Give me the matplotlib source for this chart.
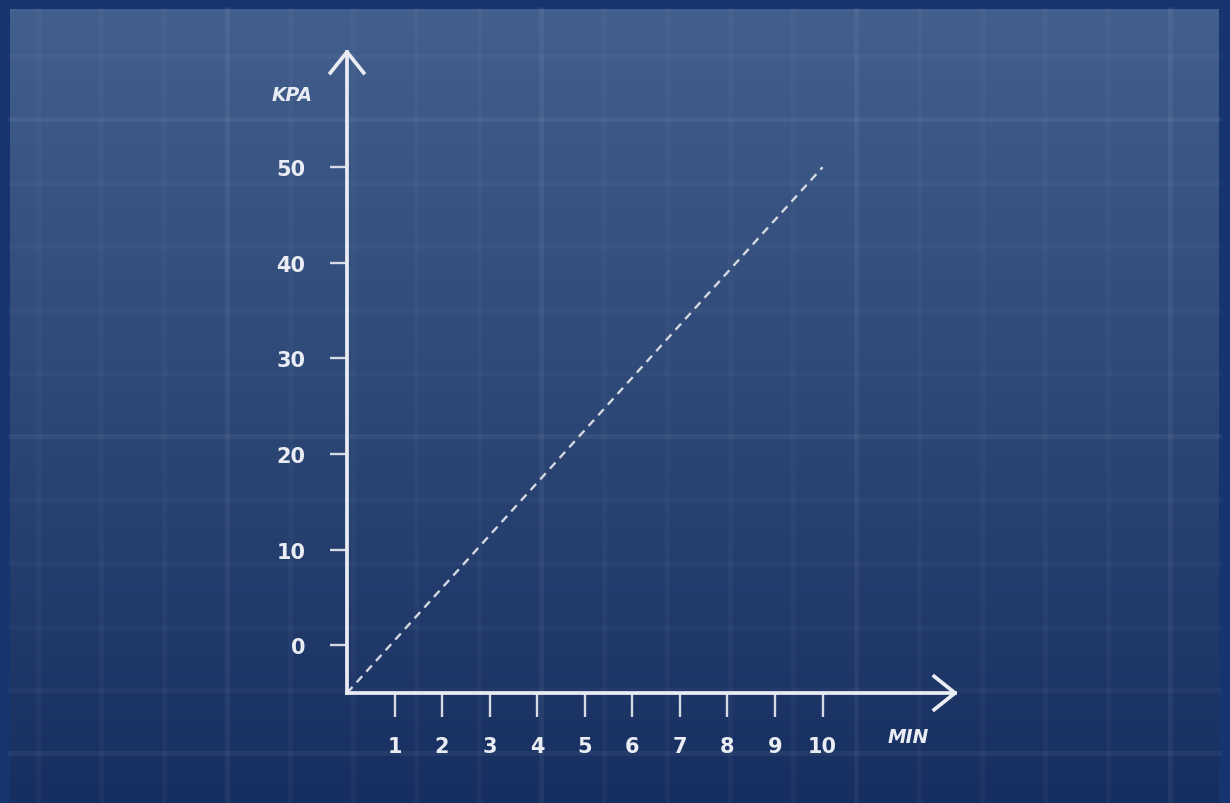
import matplotlib
matplotlib.use('Agg')
import matplotlib.pyplot as plt
import numpy as np

# data
minutes = [0, 10]
kpa = [-5, 50]
x_ticks = [1, 2, 3, 4, 5, 6, 7, 8, 9, 10]
y_ticks = [0, 10, 20, 30, 40, 50]

W, H = 1230, 804
ink = '#e9ecf2'
plt.rcParams['font.family'] = ['DejaVu Sans']

fig = plt.figure(figsize=(W / 100, H / 100), dpi=100, facecolor='#163570')

# background panel with gradient and faint grid
bg = fig.add_axes([0, 0, 1, 1])
bg.set_xlim(0, W)
bg.set_ylim(H, 0)
bg.axis('off')
top = np.array([0x43, 0x5f, 0x8d]) / 255
bot = np.array([0x17, 0x2f, 0x60]) / 255
t = np.linspace(0, 1, 256)[:, None]
grad = top * (1 - t[..., None]) + bot * t[..., None]
grad = np.repeat(grad, 2, axis=1)
bg.imshow(grad, extent=(10, 1219, H, 10), aspect='auto', zorder=0)

for i, gx in enumerate(np.arange(38.3, 1219, 62.9)):
    major = (i % 5) == 3
    bg.plot([gx, gx], [10, H], color='white', lw=3.5,
            alpha=0.055 if major else 0.028, zorder=1)
for i, gy in enumerate(np.arange(57, H, 63.4)):
    major = (i % 5) == 1
    bg.plot([10, 1219], [gy, gy], color='white', lw=3.5,
            alpha=0.055 if major else 0.028, zorder=1)

# main chart
ax = fig.add_axes([347 / W, (H - 694) / H, (958 - 347) / W, (694 - 50) / H])
ax.patch.set_alpha(0)
ax.set_xlim(0, (958 - 347) / 47.56)
ax.set_ylim(-5, -5 + (694 - 50) / 9.56)

for s in ax.spines.values():
    s.set_visible(False)

arrow = dict(arrowstyle='->,head_length=15,head_width=12', lw=2.7,
             color=ink, mutation_scale=1, shrinkA=0, shrinkB=0,
             capstyle='projecting')
ax.annotate('', xy=(0, 1), xytext=(0, 0), xycoords='axes fraction',
            arrowprops=arrow)
ax.annotate('', xy=(1, 0), xytext=(0, 0), xycoords='axes fraction',
            arrowprops=arrow)

ax.plot(minutes, kpa, color='#d3d8e2', lw=1.7, dashes=(3.5, 2.6),
        clip_on=False)

ax.set_xticks(x_ticks)
ax.set_yticks(y_ticks)
ax.tick_params(axis='y', length=12, width=1.7, color='#d5dae4', pad=18,
               labelsize=15, labelcolor=ink)
ax.tick_params(axis='x', length=17, width=1.7, color='#d5dae4', pad=14,
               labelsize=15, labelcolor=ink)
for lab in ax.get_xticklabels() + ax.get_yticklabels():
    lab.set_fontweight('bold')

ax.text(-0.09, 0.93, 'KPA', transform=ax.transAxes, ha='center', va='center',
        color=ink, fontsize=13.5, fontweight='bold', style='italic')
ax.text(0.918, -0.067, 'MIN', transform=ax.transAxes, ha='center', va='center',
        color=ink, fontsize=13.5, fontweight='bold', style='italic')

fig.savefig('out.png', dpi=100, facecolor=fig.get_facecolor())
